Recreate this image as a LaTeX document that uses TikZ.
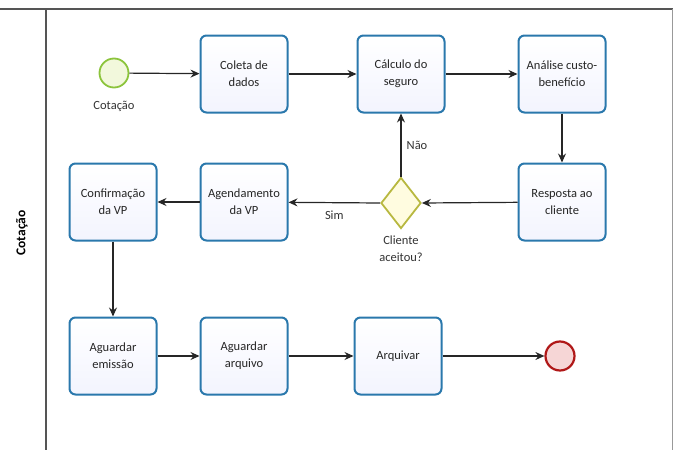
\documentclass[tikz,border=0pt]{standalone}
\usepackage{fontspec}
\setmainfont{Carlito}
\usetikzlibrary{shapes.geometric,arrows.meta}
\definecolor{taskborder}{HTML}{2A78AC}
\definecolor{taskfill}{HTML}{EEF3FC}
\definecolor{startborder}{HTML}{8CC43C}
\definecolor{startfill}{HTML}{F2F8DC}
\definecolor{endborder}{HTML}{B01818}
\definecolor{endfill}{HTML}{F6D6D6}
\definecolor{gateborder}{HTML}{B8B840}
\definecolor{gatefill}{HTML}{FFFCE0}
\definecolor{laneline}{HTML}{555555}
\tikzset{
  task/.style={draw=taskborder, line width=2pt, rounded corners=6pt,
    top color=white, bottom color=taskfill!90!blue!30, minimum width=87pt, minimum height=77pt,
    align=center, font=\fontsize{12.5}{17}\selectfont, text=black!85, inner sep=2pt},
  startev/.style={circle, draw=startborder, line width=1.8pt, fill=startfill, minimum size=29pt, inner sep=0pt},
  endev/.style={circle, draw=endborder, line width=2.2pt, fill=endfill, minimum size=29pt, inner sep=0pt},
  gate/.style={diamond, draw=gateborder, line width=1.8pt, fill=gatefill, minimum width=40pt, minimum height=51pt, inner sep=0pt},
  flow/.style={draw=black!85, line width=1.2pt, -{Stealth[length=9pt,width=8pt,inset=3pt]}},
  lbl/.style={font=\fontsize{12.5}{17}\selectfont, text=black!80, align=center, inner sep=0pt},
  lane/.style={draw=laneline, line width=1.4pt}
}
\begin{document}
\begin{tikzpicture}[x=1pt,y=-1pt]
\useasboundingbox (0,0) rectangle (673,450);
% lane frame
\coordinate (tl) at (0,9);
\coordinate (tr) at (673,9);
\coordinate (vt) at (46,9);
\coordinate (vb) at (46,450);
\coordinate (rt) at (672,9);
\coordinate (rb) at (672,450);
\draw[lane] (tl) -- (tr);
\draw[lane] (vt) -- (vb);
\draw[draw=black!40, line width=1pt] (rt) -- (rb);
\node[rotate=90, font=\bfseries\fontsize{13.5}{15}\selectfont] (lanename) at (22,233) {Cotação};

% nodes
\node[startev] (start) at (114,73) {};
\node[lbl] (startlbl) at (114,106) {Cotação};
\node[task] (coleta) at (244,74) {Coleta de\\dados};
\node[task] (calculo) at (401,74) {Cálculo do\\seguro};
\node[task] (analise) at (562,74) {Análise custo-\\benefício};
\node[task] (resposta) at (562,202) {Resposta ao\\cliente};
\node[gate] (gw) at (401,203) {};
\node[lbl] (gwlbl) at (401,249) {Cliente\\aceitou?};
\node[task] (agend) at (244,202) {Agendamento\\da VP};
\node[task] (confirm) at (113,202) {Confirmação\\da VP};
\node[task] (emissao) at (113,356) {Aguardar\\emissão};
\node[task] (arquivo) at (244,356) {Aguardar\\arquivo};
\node[task] (arquivar) at (398,356) {Arquivar};
\node[endev] (end) at (560,356) {};

% flows
\draw[flow] (start) -- (coleta);
\draw[flow] (coleta) -- (calculo);
\draw[flow] (calculo) -- (analise);
\draw[flow] (analise) -- (resposta);
\draw[flow] (resposta) -- (gw.east);
\draw[flow] (gw.west) -- node[lbl, pos=0.5, yshift=-13pt] (sim) {Sim} (agend);
\draw[flow] (gw.north) -- node[lbl, pos=0.5, xshift=16pt] (nao) {Não} (calculo);
\draw[flow] (agend) -- (confirm);
\draw[flow] (confirm) -- (emissao);
\draw[flow] (emissao) -- (arquivo);
\draw[flow] (arquivo) -- (arquivar);
\draw[flow] (arquivar) -- (end);
\end{tikzpicture}
\end{document}
